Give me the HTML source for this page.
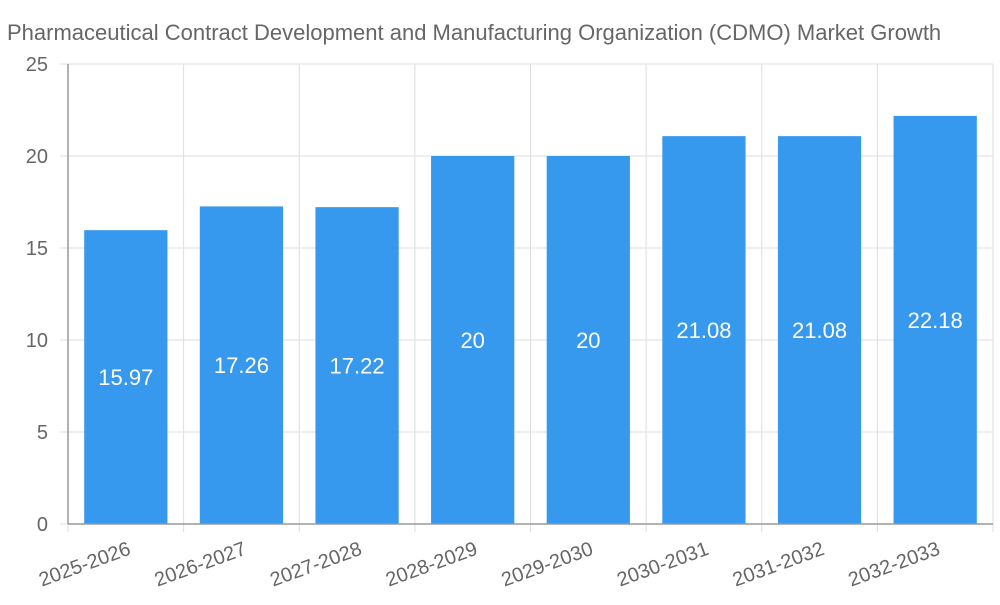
<!DOCTYPE html>
<html><head><meta charset="utf-8"><style>
body{margin:0;background:#fff;width:1000px;height:600px;overflow:hidden;font-family:"Liberation Sans",sans-serif}
</style></head><body>
<svg id="chart" width="1000" height="600" xmlns="http://www.w3.org/2000/svg">
<text x="7" y="40" font-size="22" fill="#666">Pharmaceutical Contract Development and Manufacturing Organization (CDMO) Market Growth</text>
<g id="grid"></g><g id="bars"></g><g id="axes"></g>
</svg>
<script>
const categories=["2025-2026","2026-2027","2027-2028","2028-2029","2029-2030","2030-2031","2031-2032","2032-2033"];
const values=[15.97,17.26,17.22,20,20,21.08,21.08,22.18];
const yTicks=[0,5,10,15,20,25];
const L=68,R=993,T=64,B=524,yMax=25;
const ns="http://www.w3.org/2000/svg";
const step=(R-L)/categories.length;
const y=v=>B-(v/yMax)*(B-T);
const x=i=>L+step*i;
function mk(tag,attrs,parent,txt){const e=document.createElementNS(ns,tag);for(const k in attrs)e.setAttribute(k,attrs[k]);if(txt!==undefined)e.textContent=txt;document.getElementById(parent).appendChild(e);return e;}
yTicks.forEach(t=>{
 const g=mk("line",{x1:L-8,x2:R,y1:y(t),y2:y(t),stroke:"#ddd","stroke-width":1},"grid");
 
 
 const lb=mk("text",{x:48,y:y(t)+7,"font-size":20,fill:"#666","text-anchor":"end"},"axes",t);
 
 
});
for(let i=0;i<=categories.length;i++){
 const g=mk("line",{x1:x(i),x2:x(i),y1:T,y2:B+8,stroke:"#ddd","stroke-width":1},"grid");
 
 
}
const bw=step*0.72;
categories.forEach((c,i)=>{
 const cx=x(i)+step/2;
 const r=mk("rect",{x:cx-bw/2,y:y(values[i]),width:bw,height:B-y(values[i]),fill:"#3799ee"},"bars");
 
 
 const v=mk("text",{x:cx,y:(y(values[i])+B)/2+8,"font-size":22,fill:"#fff","text-anchor":"middle"},"bars",values[i]);
 
 
 const tl=mk("text",{x:cx+6,y:B+30,"font-size":20,fill:"#666","text-anchor":"end",transform:`rotate(-20 ${cx+6} ${B+30})`},"axes",c);
 
 
});
const ax=mk("line",{x1:L,x2:L,y1:T,y2:B,stroke:"#999","stroke-width":1.5},"axes");


const bx=mk("line",{x1:L,x2:R,y1:B,y2:B,stroke:"#999","stroke-width":1.5},"axes");


</script>
</body></html>
